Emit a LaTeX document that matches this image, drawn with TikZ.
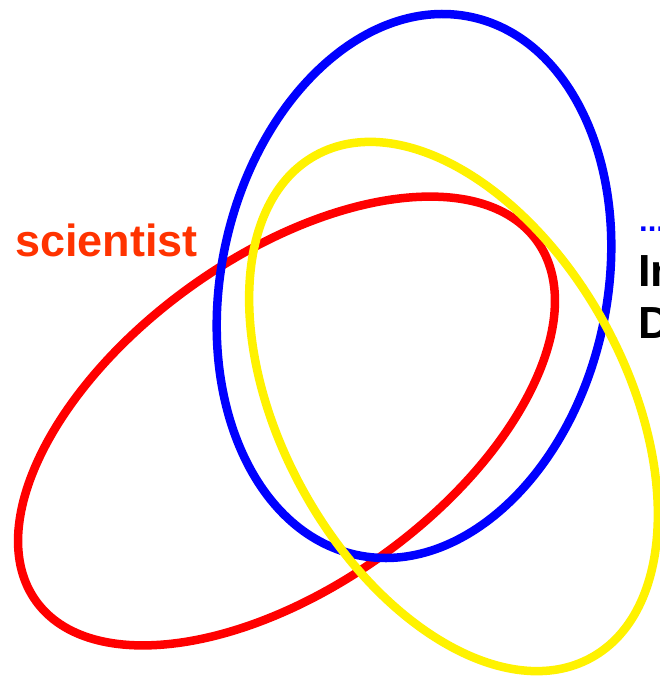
\documentclass[tikz,border=0pt]{standalone}
\usepackage{fontspec}
\setmainfont{Liberation Sans}
\begin{document}
\begin{tikzpicture}[x=1pt,y=1pt,
  ring/.style={line width=8.5pt},
  lbl/.style={inner sep=0pt,font=\fontsize{45}{52}\selectfont\bfseries}]
\definecolor{sciorange}{HTML}{FF3300}
\useasboundingbox (0,0) rectangle (660,-677);
\clip (0,0) rectangle (660,-677);
\fill[white] (0,0) rectangle (660,-677);
% red
\draw[ring,red,rotate around={35.7:(286.5,-421)}] (286.5,-421) ellipse [x radius=308.5pt, y radius=165pt];
% blue
\draw[ring,blue,rotate around={78:(414,-286)}] (414,-286) ellipse [x radius=275pt, y radius=193pt];
% yellow
\draw[ring,yellow,rotate around={-61.3:(453.5,-406.5)}] (453.5,-406.5) ellipse [x radius=286.5pt, y radius=172.3pt];
\node[lbl,text=sciorange,anchor=base west] (sci) at (15,-256) {scientist};
\node[inner sep=0pt,font=\fontsize{31}{34}\selectfont\bfseries,text=blue,anchor=base west] (dots) at (639,-231) {...};
\node[lbl,anchor=base west] (in) at (638,-286) {In};
\node[lbl,anchor=base west] (d) at (638,-338) {D};
\end{tikzpicture}
\end{document}
